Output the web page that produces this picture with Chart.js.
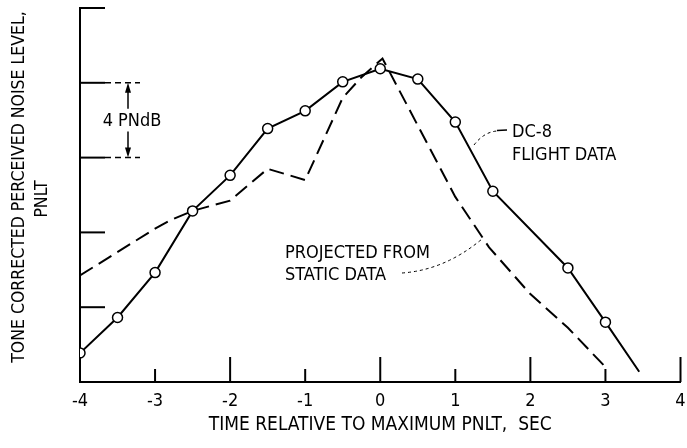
<!DOCTYPE html>
<html>
<head>
<meta charset="utf-8">
<script src="https://cdn.jsdelivr.net/npm/chart.js@4"></script>
<style>
  html, body { margin: 0; padding: 0; background: #fff; }
  canvas { display: block; }
</style>
</head>
<body>
<canvas id="pnltChart" width="687" height="448"></canvas>
<script>
// DATA
const flightTime = [-4, -3.5, -3, -2.5, -2, -1.5, -1, -0.5, 0, 0.5, 1, 1.5, 2.5, 3, 3.45];
const flightPnlt = [1.55, 3.45, 5.85, 9.15, 11.05, 13.55, 14.5, 16.05, 16.75, 16.2, 13.9, 10.2, 6.1, 3.2, 0.55];

const staticTime = [-4, -3, -2.8, -2.5, -2, -1.5, -1, -0.5, -0.25, 0.03, 1, 1.45, 2, 2.5, 3];
const staticPnlt = [5.7, 8.2, 8.65, 9.15, 9.7, 11.4, 10.8, 15.2, 16.3, 17.3, 9.9, 7.2, 4.7, 2.9, 0.8];

const xTicks = [-4, -3, -2, -1, 0, 1, 2, 3, 4];
const yTicks = [0, 4, 8, 12, 16, 20];

const FONT = '"DejaVu Sans Condensed", "Liberation Sans Narrow", sans-serif';

function toPoints(xs, ys) {
  return xs.map((v, i) => ({ x: v, y: ys[i] }));
}

function line(ctx, x1, y1, x2, y2) {
  ctx.beginPath();
  ctx.moveTo(x1, y1);
  ctx.lineTo(x2, y2);
  ctx.stroke();
}

function vText(ctx, text, cx, cy, size) {
  ctx.save();
  ctx.font = size + "px " + FONT;
  ctx.textAlign = "center";
  ctx.textBaseline = "middle";
  ctx.translate(cx, cy);
  ctx.rotate(-Math.PI / 2);
  ctx.fillText(text, 0, 0);
  ctx.restore();
}

// ticks inside the axes, labels and leaders
const inkPlugin = {
  id: "ink",
  afterDraw(chart) {
    const ctx = chart.ctx;
    const x = chart.scales.x;
    const y = chart.scales.y;
    const left = x.left;
    const bottom = y.bottom;

    ctx.save();
    ctx.strokeStyle = "#000";
    ctx.fillStyle = "#000";
    ctx.lineWidth = 2;

    // y ticks point right
    yTicks.forEach(v => {
      if (v === 0) return;
      const py = y.getPixelForValue(v);
      line(ctx, left, py, left + 25, py);
    });

    // x ticks point up, long on even seconds
    xTicks.forEach(v => {
      const px = x.getPixelForValue(v);
      const len = v % 2 === 0 ? 25 : 13;
      line(ctx, px, bottom, px, bottom - len);
    });

    // 4 PNdB bracket
    const yHi = y.getPixelForValue(16);
    const yLo = y.getPixelForValue(12);
    const ax = left + 48;
    ctx.setLineDash([6, 4]);
    ctx.lineWidth = 1.5;
    line(ctx, left + 25, yHi, left + 60, yHi);
    line(ctx, left + 25, yLo, left + 60, yLo);
    ctx.setLineDash([]);
    line(ctx, ax, yHi + 8, ax, yHi + 26);
    line(ctx, ax, yLo - 8, ax, yLo - 26);
    ctx.beginPath();
    ctx.moveTo(ax, yHi); ctx.lineTo(ax - 3, yHi + 10); ctx.lineTo(ax + 3, yHi + 10); ctx.closePath();
    ctx.fill();
    ctx.beginPath();
    ctx.moveTo(ax, yLo); ctx.lineTo(ax - 3, yLo - 10); ctx.lineTo(ax + 3, yLo - 10); ctx.closePath();
    ctx.fill();

    ctx.font = "18px " + FONT;
    ctx.textAlign = "center";
    ctx.textBaseline = "middle";
    ctx.fillText("4 PNdB", ax + 4, y.getPixelForValue(14) + 1);

    // series labels
    ctx.textAlign = "left";
    ctx.textBaseline = "alphabetic";
    ctx.fillText("DC-8", 512, 137);
    ctx.fillText("FLIGHT DATA", 512, 160);
    ctx.fillText("PROJECTED FROM", 285, 258);
    ctx.fillText("STATIC DATA", 285, 280);

    // leaders
    ctx.lineWidth = 1;
    ctx.setLineDash([3, 3]);
    ctx.beginPath();
    ctx.moveTo(474, 145);
    ctx.quadraticCurveTo(484, 132, 497, 131);
    ctx.stroke();
    ctx.beginPath();
    ctx.moveTo(402, 273);
    ctx.quadraticCurveTo(445, 270, 482, 239);
    ctx.stroke();
    ctx.setLineDash([]);
    ctx.lineWidth = 1.5;
    line(ctx, 497, 130.5, 507, 130);

    // y axis title
    vText(ctx, "TONE CORRECTED PERCEIVED NOISE LEVEL,", 19, 187, 17.5);
    vText(ctx, "PNLT", 42, 199, 17.5);

    ctx.restore();
  }
};

new Chart(document.getElementById("pnltChart"), {
  type: "line",
  data: {
    datasets: [
      {
        label: "DC-8 flight data",
        data: toPoints(flightTime, flightPnlt),
        borderColor: "#000",
        borderWidth: 2,
        pointRadius: flightTime.map((v, i) => i === flightTime.length - 1 ? 0 : 5),
        pointBackgroundColor: "#fff",
        pointBorderColor: "#000",
        pointBorderWidth: 1.5,
        tension: 0
      },
      {
        label: "Projected from static data",
        data: toPoints(staticTime, staticPnlt),
        borderColor: "#000",
        borderWidth: 2,
        borderDash: [15, 7],
        pointRadius: 0,
        tension: 0
      }
    ]
  },
  options: {
    responsive: false,
    animation: false,
    devicePixelRatio: 1,
    layout: { padding: { left: 0, top: 8, right: 0, bottom: 0 } },
    plugins: {
      legend: { display: false },
      tooltip: { enabled: false }
    },
    scales: {
      x: {
        type: "linear",
        min: -4,
        max: 4,
        afterBuildTicks: s => { s.ticks = xTicks.map(v => ({ value: v })); },
        afterFit: s => { s.height = 66; },
        grid: { display: false },
        border: { color: "#000", width: 2 },
        ticks: { color: "#000", padding: 1, font: { family: FONT, size: 18 } },
        title: {
          display: true,
          text: "TIME RELATIVE TO MAXIMUM PNLT,  SEC",
          color: "#000",
          font: { family: FONT, size: 19 },
          padding: { top: 0, bottom: 12 }
        }
      },
      y: {
        min: 0,
        max: 20,
        afterBuildTicks: s => { s.ticks = yTicks.map(v => ({ value: v })); },
        afterFit: s => { s.width = 80; },
        grid: { display: false },
        border: { color: "#000", width: 2 },
        ticks: { display: false }
      }
    }
  },
  plugins: [inkPlugin]
});
</script>
</body>
</html>
